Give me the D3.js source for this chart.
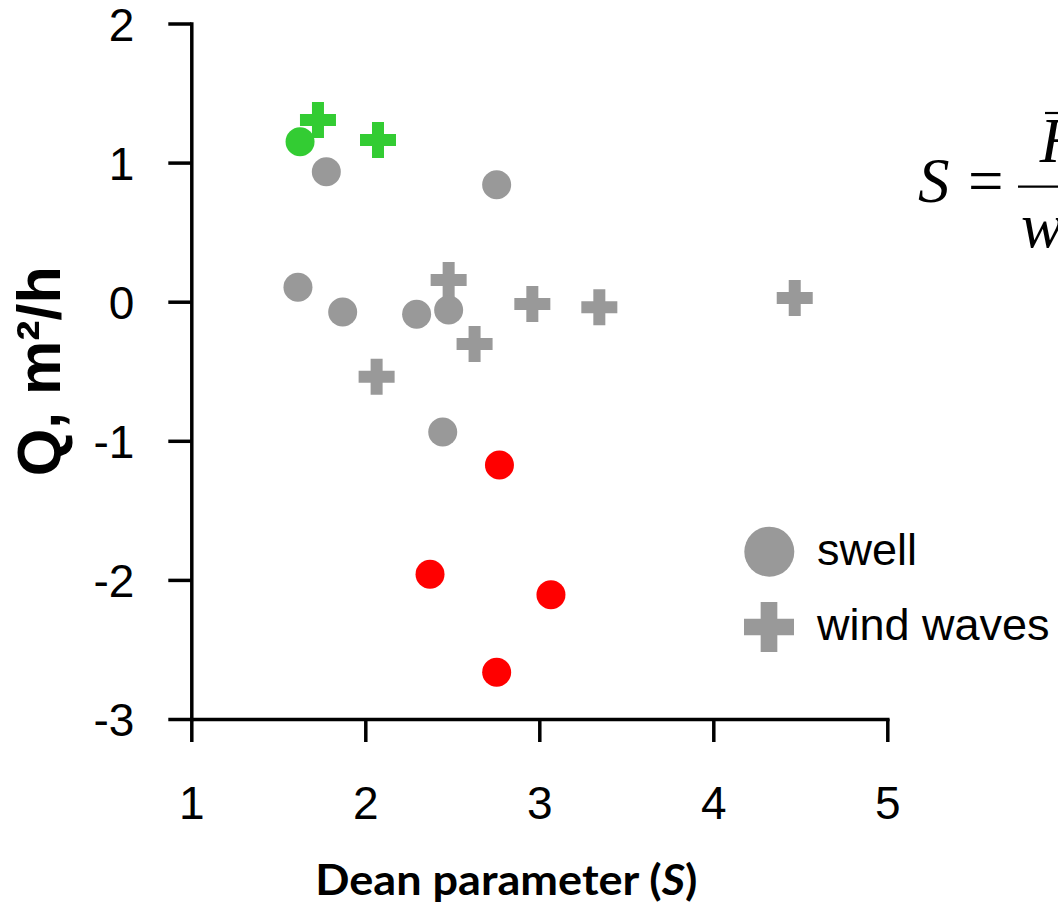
<!DOCTYPE html>
<html>
<head>
<meta charset="utf-8">
<script src="https://cdn.jsdelivr.net/npm/d3@7"></script>
<style>
  html, body { margin: 0; padding: 0; background: #fff; overflow: hidden; }
  svg { display: block; }
</style>
</head>
<body>
<svg id="chart" width="1058" height="906"></svg>
<script>
// Dean parameter S versus cross-shore transport rate Q
// class: "gain" = onshore accumulation, "loss" = erosion, "none" = near zero
const swellDean  = [1.625, 1.776, 2.755, 1.613, 1.870, 2.295, 2.479, 2.445, 2.771, 2.372, 3.067, 2.755];
const swellQ     = [1.150, 0.935, 0.841, 0.104, -0.074, -0.091, -0.060, -0.937, -1.174, -1.960, -2.106, -2.664];
const swellClass = ["gain", "none", "none", "none", "none", "none", "none", "none", "loss", "loss", "loss", "loss"];

const windDean  = [1.728, 2.073, 2.479, 2.960, 3.345, 4.468, 2.628, 2.065];
const windQ     = [1.306, 1.162, 0.156, -0.017, -0.040, 0.027, -0.304, -0.539];
const windClass = ["gain", "gain", "none", "none", "none", "none", "none", "none"];

const xTicks = [1, 2, 3, 4, 5];
const yTicks = [-3, -2, -1, 0, 1, 2];
const legendLabels = ["swell", "wind waves"];

const classColor = { gain: "#33cc33", loss: "#ff0000", none: "#999999" };

const svg = d3.select("#chart");
svg.append("rect").attr("width", 1058).attr("height", 906).attr("fill", "#fff");

const x = d3.scaleLinear().domain([1, 5]).range([191.3, 887.3]);
const y = d3.scaleLinear().domain([-3, 2]).range([719, 23.5]);

const axisStroke = 3.5;
const plainNum = d => String(d);   // ASCII hyphen for negatives

// x axis
const gx = svg.append("g")
  .attr("transform", `translate(0,${y(-3)})`)
  .call(d3.axisBottom(x).tickValues(xTicks).tickFormat(plainNum)
        .tickSizeInner(23).tickSizeOuter(0).tickPadding(44));
// y axis
const gy = svg.append("g")
  .attr("transform", `translate(${x(1)},0)`)
  .call(d3.axisLeft(y).tickValues(yTicks).tickFormat(plainNum)
        .tickSizeInner(23).tickSizeOuter(0).tickPadding(34));

[gx, gy].forEach(g => {
  g.select(".domain").attr("stroke", "#000").attr("stroke-width", axisStroke).attr("stroke-linecap", "square");
  g.selectAll(".tick line").attr("stroke", "#000").attr("stroke-width", axisStroke);
  g.selectAll(".tick text")
    .attr("fill", "#000")
    .style("font-family", "'Liberation Sans', Arial, sans-serif")
    .style("font-size", "46px");
});
gx.selectAll(".tick text").attr("dy", "0.71em");
gy.selectAll(".tick text").attr("dy", "0.36em");

// axis titles
const xTitle = svg.append("text")
  .attr("x", x(3) - 33).attr("y", 895)
  .attr("text-anchor", "middle")
  .attr("textLength", 382).attr("lengthAdjust", "spacingAndGlyphs")
  .style("font-family", "Lato, 'Open Sans', sans-serif")
  .style("font-weight", 700)
  .style("font-size", "42px")
  .attr("fill", "#000");
xTitle.append("tspan").text("Dean parameter (");
xTitle.append("tspan").style("font-style", "italic").text("S");
xTitle.append("tspan").text(")");

svg.append("text")
  .attr("transform", `translate(60,${(y(2) + y(-3)) / 2}) rotate(-90)`)
  .attr("text-anchor", "middle")
  .style("font-family", "'Liberation Sans', Arial, sans-serif")
  .style("font-weight", 700)
  .style("font-size", "61px")
  .attr("fill", "#000")
  .text("Q, m²/h");

// data marks
const swell = swellDean.map((s, i) => ({ s, q: swellQ[i], c: swellClass[i] }));
const wind = windDean.map((s, i) => ({ s, q: windQ[i], c: windClass[i] }));

const crossPath = d3.symbol().type(d3.symbolCross).size(720)();

svg.append("g").selectAll("path")
  .data(wind).join("path")
  .attr("d", crossPath)
  .attr("transform", d => `translate(${x(d.s)},${y(d.q)})`)
  .attr("fill", d => classColor[d.c]);

svg.append("g").selectAll("circle")
  .data(swell).join("circle")
  .attr("cx", d => x(d.s)).attr("cy", d => y(d.q))
  .attr("r", 14.5)
  .attr("fill", d => classColor[d.c]);

// legend
const leg = svg.append("g");
leg.append("circle").attr("cx", 769.3).attr("cy", 551.7).attr("r", 25).attr("fill", "#999999");
leg.append("path")
  .attr("d", d3.symbol().type(d3.symbolCross).size(1389)())
  .attr("transform", "translate(769,627)")
  .attr("fill", "#999999");
leg.selectAll("text")
  .data(legendLabels).join("text")
  .attr("x", 817).attr("y", (d, i) => [565, 640][i])
  .style("font-family", "'Liberation Sans', Arial, sans-serif")
  .style("font-size", "45px")
  .attr("fill", "#000")
  .text(d => d);

// Dean parameter formula, S = H / (w T)
const f = svg.append("g")
  .style("font-family", "'Liberation Serif', 'Times New Roman', serif")
  .style("font-size", "63px")
  .attr("fill", "#000");
f.append("text").attr("x", 918).attr("y", 201.7).style("font-style", "italic").text("S");
f.append("text").attr("x", 968).attr("y", 201.7).text("=");
f.append("line").attr("x1", 1018).attr("x2", 1070).attr("y1", 186.7).attr("y2", 186.7)
  .attr("stroke", "#000").attr("stroke-width", 2.2);
f.append("text").attr("x", 1040).attr("y", 161.7).style("font-style", "italic").text("H");
f.append("line").attr("x1", 1045).attr("x2", 1070).attr("y1", 113).attr("y2", 113)
  .attr("stroke", "#000").attr("stroke-width", 2.2);
f.append("text").attr("x", 1021).attr("y", 246.7).style("font-style", "italic").text("wT");
</script>
</body>
</html>
